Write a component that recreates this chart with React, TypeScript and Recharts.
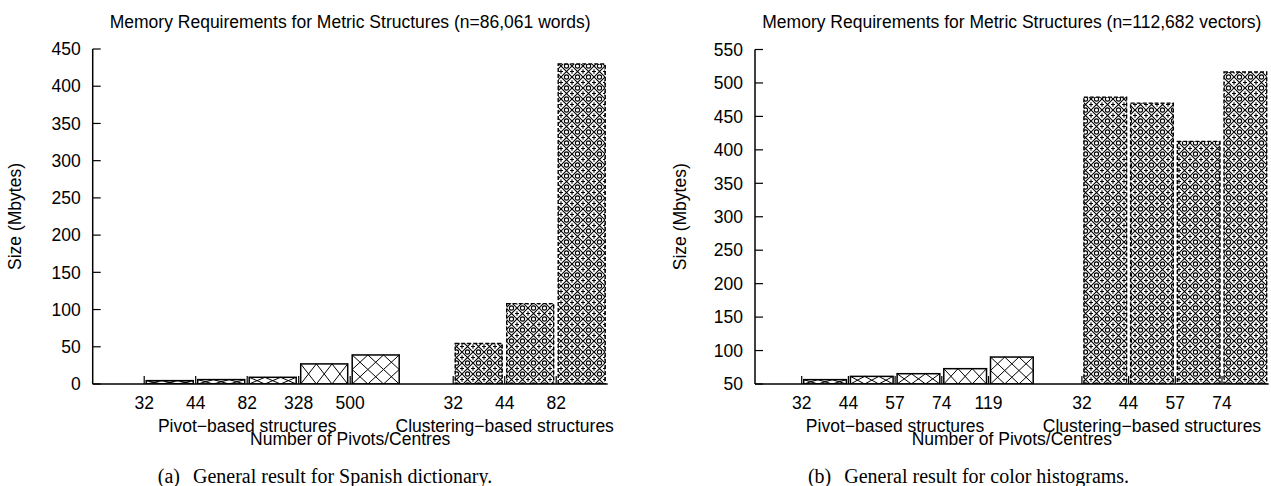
import React from 'react';
import { BarChart, Bar, XAxis, YAxis } from 'recharts';

// ---------- data ----------
const leftTitle = 'Memory Requirements for Metric Structures (n=86,061 words)';
const leftPivotLabels = ['32', '44', '82', '328', '500'];
const leftPivotSizes = [4.5, 5.9, 9, 27, 39];
const leftClusterLabels = ['32', '44', '82'];
const leftClusterSizes = [54.5, 108, 430];
const leftYTicks = [0, 50, 100, 150, 200, 250, 300, 350, 400, 450];
const leftCaption = ['(a)', 'General result for Spanish dictionary.'];

const rightTitle = 'Memory Requirements for Metric Structures (n=112,682 vectors)';
const rightPivotLabels = ['32', '44', '57', '74', '119'];
const rightPivotSizes = [56.5, 61.4, 65.4, 72.9, 90.3];
const rightClusterLabels = ['32', '44', '57', '74'];
const rightClusterSizes = [478.8, 469.8, 412.6, 516.4];
const rightYTicks = [50, 100, 150, 200, 250, 300, 350, 400, 450, 500, 550];
const rightCaption = ['(b)', 'General result for color histograms.'];

const groupLabels = ['Pivot\u2212based structures', 'Clustering\u2212based structures'];
const xTitle = 'Number of Pivots/Centres';
const yTitle = 'Size (Mbytes)';

// ---------- helpers ----------
const SANS = '"Liberation Sans", Arial, Helvetica, sans-serif';
const SERIF = '"Liberation Serif", "Times New Roman", serif';
const FS = 17.5;
const H = 486;

function buildPanel(pivotLabels: string[], pivotSizes: number[], clusterLabels: string[], clusterSizes: number[]) {
  const rows: { pos: number; size: number; kind: string }[] = [];
  const ticks: number[] = [];
  const labels: string[] = [];
  pivotSizes.forEach((v, i) => {
    rows.push({ pos: 1.5 + i, size: v, kind: 'pivot' });
    ticks.push(1 + i);
    labels.push(pivotLabels[i]);
  });
  const start = pivotSizes.length + 2;
  clusterSizes.forEach((v, i) => {
    rows.push({ pos: start + 0.5 + i, size: v, kind: 'cluster' });
    ticks.push(start + i);
    labels.push(clusterLabels[i]);
  });
  const xMax = start + clusterSizes.length;
  const pivotTicks = ticks.slice(0, pivotSizes.length);
  const clusterTicks = ticks.slice(pivotSizes.length);
  return { rows, ticks, labels, xMax, pivotTicks, clusterTicks };
}

const PivotShape = (props: any) => {
  const { x, y, width, height } = props;
  if (!(width > 0) || !(height > 0)) return <g />;
  const cols = 3;
  const cw = width / cols;
  const rows = Math.max(1, Math.round(height / cw));
  const rh = height / rows;
  let d = '';
  for (let i = 0; i < cols; i++) {
    for (let j = 0; j < rows; j++) {
      const x0 = x + i * cw;
      const y0 = y + j * rh;
      d += `M${x0},${y0}L${x0 + cw},${y0 + rh}M${x0 + cw},${y0}L${x0},${y0 + rh}`;
    }
  }
  return (
    <g>
      <rect x={x} y={y} width={width} height={height} fill="#fff" />
      <path d={d} stroke="#000" strokeWidth={1} fill="none" />
      <rect x={x} y={y} width={width} height={height} fill="none" stroke="#000" strokeWidth={1.5} />
    </g>
  );
};

const ClusterShape = (props: any) => {
  const { x, y, width, height, pid } = props;
  if (!(width > 0) || !(height > 0)) return <g />;
  return (
    <g>
      <rect x={x} y={y} width={width} height={height} fill={`url(#${pid})`} />
      <rect x={x} y={y} width={width} height={height} fill="none" stroke="#000" strokeWidth={1.4} strokeDasharray="4 2" />
    </g>
  );
};

type PanelProps = {
  id: string;
  left: number;
  width: number;
  plotLeft: number;
  plotRight: number;
  plotTop: number;
  plotBottom: number;
  panel: ReturnType<typeof buildPanel>;
  yTicks: number[];
  barSize: number;
};

function Panel({ id, left, width, plotLeft, plotRight, plotTop, plotBottom, panel, yTicks, barSize }: PanelProps) {
  const xAxisH = 40;
  const labelMap = new Map<number, string>();
  panel.ticks.forEach((t, i) => labelMap.set(t, panel.labels[i]));
  const yMin = yTicks[0];
  const yMax = yTicks[yTicks.length - 1];
  const pid = `pat-${id}`;
  const axisLine = { stroke: '#000', strokeWidth: 1.5 };
  const tickLine = { stroke: '#000', strokeWidth: 1.2 };
  const tickStyle = { fill: '#000', fontSize: FS, fontFamily: SANS };
  return (
    <div style={{ position: 'absolute', left, top: 0, width, height: H }}>
      <BarChart
        width={width}
        height={H}
        data={panel.rows}
        margin={{ top: plotTop, right: width - plotRight, bottom: H - plotBottom - xAxisH, left: 0 }}
      >
        <defs>
          <pattern id={pid} patternUnits="userSpaceOnUse" width={11} height={11}>
            <rect width={11} height={11} fill="#fff" />
            <path d="M0,0L11,11M11,0L0,11" stroke="#000" strokeWidth={1.1} fill="none" />
            <circle cx={5.5} cy={0} r={2.1} fill="none" stroke="#000" strokeWidth={1.1} />
            <circle cx={5.5} cy={11} r={2.1} fill="none" stroke="#000" strokeWidth={1.1} />
            <path d="M0,3.3V7.7M11,3.3V7.7M-2,5.5H2M9,5.5H13" stroke="#000" strokeWidth={1.1} fill="none" />
          </pattern>
        </defs>
        <XAxis
          xAxisId="b"
          dataKey="pos"
          type="number"
          domain={[0, panel.xMax]}
          allowDataOverflow
          ticks={panel.ticks}
          interval={0}
          orientation="bottom"
          height={xAxisH}
          tickSize={-8}
          tickMargin={20.6}
          tickFormatter={(v: number) => labelMap.get(v) ?? ''}
          axisLine={axisLine}
          tickLine={tickLine}
          tick={tickStyle}
        />
        <XAxis
          xAxisId="t"
          dataKey="pos"
          type="number"
          domain={[0, panel.xMax]}
          allowDataOverflow
          ticks={panel.ticks}
          interval={0}
          orientation="top"
          height={0}
          tickSize={-8}
          tick={false}
          axisLine={axisLine}
          tickLine={tickLine}
        />
        <YAxis
          yAxisId="l"
          type="number"
          domain={[yMin, yMax]}
          allowDataOverflow
          ticks={yTicks}
          interval={0}
          width={plotLeft}
          tickSize={-8}
          tickMargin={20}
          axisLine={axisLine}
          tickLine={tickLine}
          tick={tickStyle}
        />
        <YAxis
          yAxisId="r"
          orientation="right"
          type="number"
          domain={[yMin, yMax]}
          allowDataOverflow
          width={0}
          tick={false}
          tickLine={false}
          axisLine={axisLine}
        />
        <Bar
          xAxisId="b"
          yAxisId="l"
          dataKey="size"
          barSize={barSize}
          isAnimationActive={false}
          shape={(p: any) =>
            p.payload && p.payload.kind === 'cluster' ? <ClusterShape {...p} pid={pid} /> : <PivotShape {...p} />
          }
        />
      </BarChart>
    </div>
  );
}

const leftPanel = buildPanel(leftPivotLabels, leftPivotSizes, leftClusterLabels, leftClusterSizes);
const rightPanel = buildPanel(rightPivotLabels, rightPivotSizes, rightClusterLabels, rightClusterSizes);

type Geo = { offset: number; plotLeft: number; plotRight: number; plotTop: number; plotBottom: number };
const leftGeo: Geo = { offset: 0, plotLeft: 92.7, plotRight: 607.7, plotTop: 49, plotBottom: 384 };
const rightGeo: Geo = { offset: 640, plotLeft: 115, plotRight: 628.7, plotTop: 49.5, plotBottom: 384 };

function Overlay({ geo, panel, title, caption, yTitleX, captionX }: any) {
  const L = geo.offset + geo.plotLeft;
  const R = geo.offset + geo.plotRight;
  const slot = (R - L) / panel.xMax;
  const mean = (a: number[]) => a.reduce((s, v) => s + v, 0) / a.length;
  const cx = (L + R) / 2;
  const cy = (geo.plotTop + geo.plotBottom) / 2;
  const textStyle = { fontFamily: SANS, fontSize: FS, fill: '#000' } as any;
  return (
    <g>
      <text x={cx} y={28} textAnchor="middle" style={textStyle}>{title}</text>
      <text x={L + slot * mean(panel.pivotTicks)} y={431.5} textAnchor="middle" style={textStyle}>{groupLabels[0]}</text>
      <text x={L + slot * mean(panel.clusterTicks)} y={431.5} textAnchor="middle" style={textStyle}>{groupLabels[1]}</text>
      <text x={cx} y={445} textAnchor="middle" style={textStyle}>{xTitle}</text>
      <text x={yTitleX} y={cy} textAnchor="middle" transform={`rotate(-90 ${yTitleX} ${cy})`} style={textStyle}>{yTitle}</text>
      <text x={captionX} y={483} textAnchor="middle" style={{ fontFamily: SERIF, fontSize: 20, fill: '#000' }}>
        {caption[0]}
        <tspan dx={8}>{' ' + caption[1]}</tspan>
      </text>
    </g>
  );
}

export default function App() {
  return (
    <div style={{ position: 'absolute', left: 0, top: 0, width: 1271, height: H, background: '#fff', overflow: 'hidden' }}>
      <Panel id="a" left={0} width={620} plotLeft={leftGeo.plotLeft} plotRight={leftGeo.plotRight} plotTop={leftGeo.plotTop} plotBottom={leftGeo.plotBottom} panel={leftPanel} yTicks={leftYTicks} barSize={47} />
      <Panel id="b" left={640} width={631} plotLeft={rightGeo.plotLeft} plotRight={rightGeo.plotRight} plotTop={rightGeo.plotTop} plotBottom={rightGeo.plotBottom} panel={rightPanel} yTicks={rightYTicks} barSize={42.7} />
      <svg width={1271} height={H} style={{ position: 'absolute', left: 0, top: 0, pointerEvents: 'none' }}>
        <Overlay geo={leftGeo} panel={leftPanel} title={leftTitle} caption={leftCaption} yTitleX={21.3} captionX={325} />
        <Overlay geo={rightGeo} panel={rightPanel} title={rightTitle} caption={rightCaption} yTitleX={685.6} captionX={968.5} />
      </svg>
    </div>
  );
}
